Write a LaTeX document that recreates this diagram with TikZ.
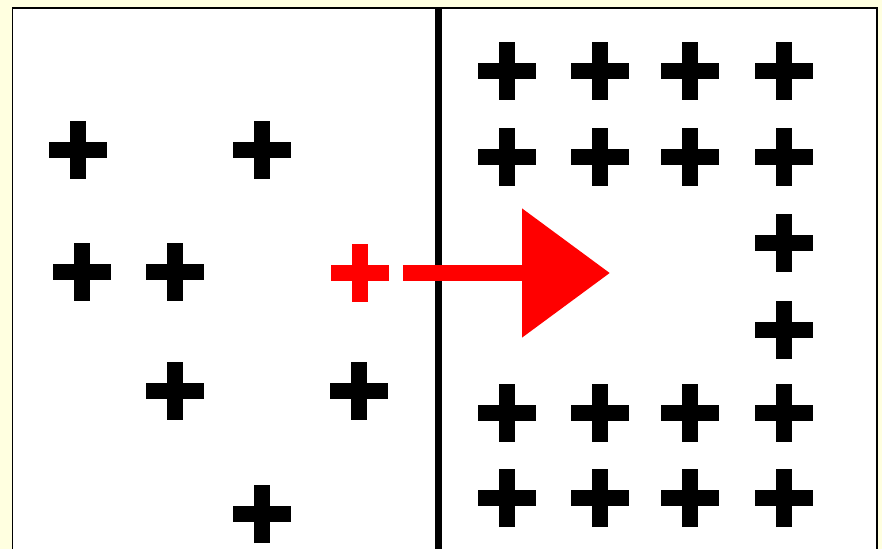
\documentclass[tikz,border=0pt]{standalone}
\usepackage{xcolor}
\usepackage{tikz}
\usetikzlibrary{arrows.meta,shapes.misc}
\definecolor{fundo}{RGB}{255,255,224}
\tikzset{
    sinal/.style={
        cross out,
        draw,
        rotate=45,
        minimum size=0.82cm,
        inner sep=0pt,
        outer sep=0pt,
        line width=0.32cm
    },
    negativo/.style={sinal, draw=black},
    novo/.style={sinal, draw=red},
    fronteira/.style={line width=0.14cm},
    moldura/.style={line width=0.04cm},
    desloca/.style={-{Triangle[length=1.76cm, width=2.5cm]}, red, line width=0.33cm}
}

\begin{document}
\begin{tikzpicture}[x=0.02cm, y=-0.02cm]
    \useasboundingbox (0,0) rectangle (882,549);
    \fill[fundo] (0,0) rectangle (882,549);
    \fill[white] (12.5,7.5) rectangle (876.5,549);
    \draw[moldura] (12.5,549) |- (876.5,7.5) -- (876.5,549);

    % fronteira de decisao
    \coordinate (topo) at (438,7.5);
    \coordinate (base) at (438,549);
    \draw[fronteira] (topo) -- (base);

    % lado esquerdo
    \node[negativo] (a1) at (78,150) {};
    \node[negativo] (a2) at (262,150) {};
    \node[negativo] (a3) at (82,272) {};
    \node[negativo] (a4) at (175,272) {};
    \node[negativo] (a5) at (175,391) {};
    \node[negativo] (a6) at (359,391) {};
    \node[negativo] (a7) at (262,514) {};

    % ponto novo
    \node[novo] (pt) at (360,273) {};

    % lado direito
    \foreach \y/\r in {71/1, 157/2, 413/5, 498/6}
        \foreach \x/\c in {507/1, 600/2, 690/3, 784/4}
            \node[negativo] (b\r\c) at (\x,\y) {};
    \node[negativo] (b34) at (784,243) {};
    \node[negativo] (b44) at (784,330) {};

    \coordinate (ponta) at (610,273);
    \draw[desloca] ([xshift=0.86cm]pt.center) -- (ponta);
\end{tikzpicture}
\end{document}
